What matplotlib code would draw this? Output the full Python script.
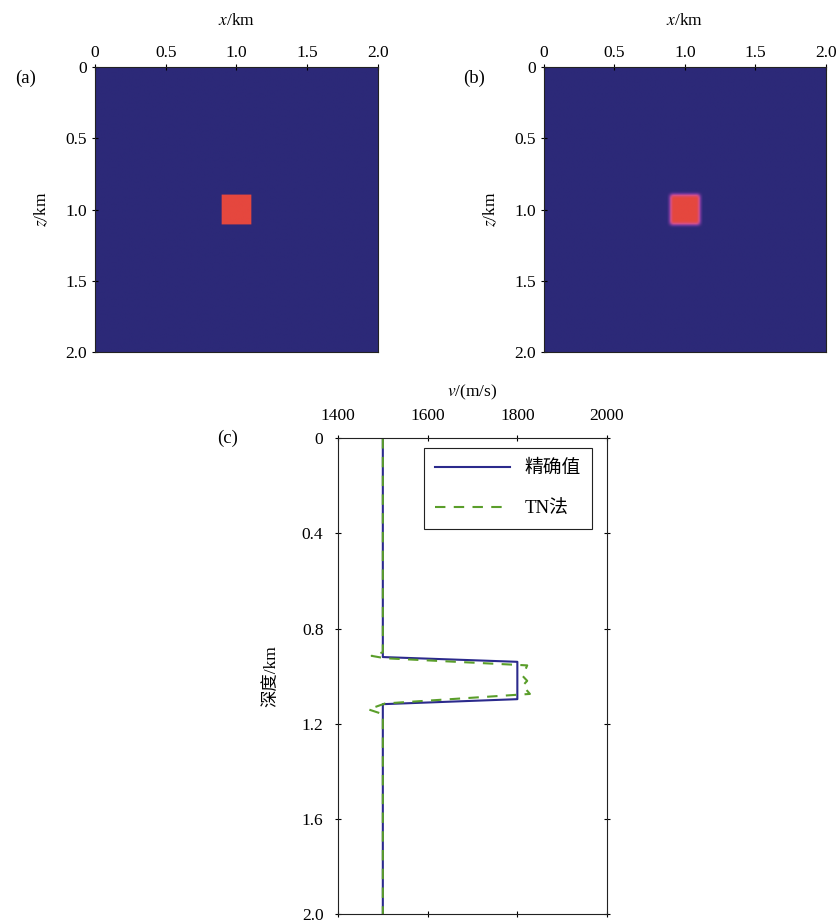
import numpy as np
import matplotlib.pyplot as plt
from matplotlib.colors import LinearSegmentedColormap

plt.rcParams['font.family'] = ['Liberation Serif', 'Noto Sans CJK SC']
plt.rcParams['font.size'] = 12.5
plt.rcParams['mathtext.fontset'] = 'stix'

# model: 2 km x 2 km, 1500 m/s background, 1800 m/s block
x_km = np.linspace(0, 2.0, 201)
z_km = np.linspace(0, 2.0, 201)
v_bg = 1500
v_block = 1800
block_x = [0.9, 1.1]
block_z = [0.9, 1.1]

# depth profile at x = 1.0 km (panel c)
exact_v = [1500, 1500, 1800, 1800, 1500, 1500]
exact_z = [0.0, 0.92, 0.94, 1.097, 1.118, 2.0]
tn_v = [1500, 1500, 1475, 1505, 1822, 1812, 1822, 1812, 1828, 1505, 1468, 1500, 1500]
tn_z = [0.0, 0.90, 0.915, 0.925, 0.955, 1.00, 1.02, 1.04, 1.075, 1.115, 1.14, 1.16, 2.0]

X, Z = np.meshgrid(x_km, z_km)
true_model = np.full(X.shape, float(v_bg))
inside = (X >= block_x[0]) & (X <= block_x[1]) & (Z >= block_z[0]) & (Z <= block_z[1])
true_model[inside] = v_block

# inverted model: same block, edges smeared a little
inv_model = true_model.copy()
for _ in range(2):
    p = np.pad(inv_model, 1, mode='edge')
    inv_model = sum(p[i:i + inv_model.shape[0], j:j + inv_model.shape[1]]
                    for i in range(3) for j in range(3)) / 9.0

cmap = LinearSegmentedColormap.from_list('vel', ['#2c2978', '#7b3a9c', '#d4508a', '#e5473e'])

fig = plt.figure(figsize=(8.36, 9.24), dpi=100)

def model_panel(rect, data, tag):
    ax = fig.add_axes(rect)
    ax.imshow(data, cmap=cmap, vmin=v_bg, vmax=v_block, origin='upper',
              extent=[0, 2.0, 2.0, 0], aspect='auto', interpolation='bilinear')
    ax.set_xlim(0, 2.0)
    ax.set_ylim(2.0, 0)
    ax.xaxis.tick_top()
    ax.xaxis.set_label_position('top')
    ax.set_xticks([0, 0.5, 1.0, 1.5, 2.0])
    ax.set_xticklabels(['0', '0.5', '1.0', '1.5', '2.0'])
    ax.set_yticks([0, 0.5, 1.0, 1.5, 2.0])
    ax.set_yticklabels(['0', '0.5', '1.0', '1.5', '2.0'])
    ax.tick_params(direction='inout', length=5, width=0.8, pad=3)
    ax.tick_params(axis='x', top=True, bottom=False, pad=2)
    ax.set_xlabel('$x$/km', labelpad=14)
    ax.set_ylabel('$z$/km', labelpad=11)
    for s in ax.spines.values():
        s.set_color('#222222')
        s.set_linewidth(0.8)
    ax.text(-0.21, 0.96, tag, transform=ax.transAxes, fontsize=13.5, ha='right', va='center')
    return ax

model_panel([0.1136, 0.619, 0.3385, 0.3084], true_model, '(a)')
model_panel([0.6507, 0.619, 0.3373, 0.3084], inv_model, '(b)')

ax = fig.add_axes([0.4043, 0.0108, 0.3218, 0.515])
ax.plot(exact_v, exact_z, color='#2b2a8c', lw=1.5, label='精确值')
ax.plot(tn_v, tn_z, color='#5a9e2a', lw=1.5, ls=(0, (5, 4)), label='TN法')
ax.set_xlim(1400, 2000)
ax.set_ylim(2.0, 0)
ax.xaxis.tick_top()
ax.xaxis.set_label_position('top')
ax.set_xticks([1400, 1600, 1800, 2000])
ax.set_yticks([0, 0.4, 0.8, 1.2, 1.6, 2.0])
ax.set_yticklabels(['0', '0.4', '0.8', '1.2', '1.6', '2.0'])
ax.tick_params(direction='inout', length=5, width=0.8, pad=3,
               top=True, bottom=True, left=True, right=True)
ax.tick_params(axis='x', labelbottom=False, labeltop=True, pad=8)
ax.tick_params(axis='y', pad=8)
ax.set_xlabel('$v$/(m/s)', labelpad=8)
ax.set_ylabel('深度/km', labelpad=16)
for s in ax.spines.values():
    s.set_color('#222222')
    s.set_linewidth(0.8)
ax.text(-0.37, 1.0, '(c)', transform=ax.transAxes, fontsize=13.5, ha='right', va='center')
leg = ax.legend(loc='upper right', bbox_to_anchor=(0.98, 0.998), handlelength=4.0,
                labelspacing=1.25, borderpad=0.6, handletextpad=0.8, fancybox=False,
                edgecolor='#222222', framealpha=1, fontsize=13.5)
leg.get_frame().set_linewidth(0.8)

fig.savefig('out.png', dpi=100)
